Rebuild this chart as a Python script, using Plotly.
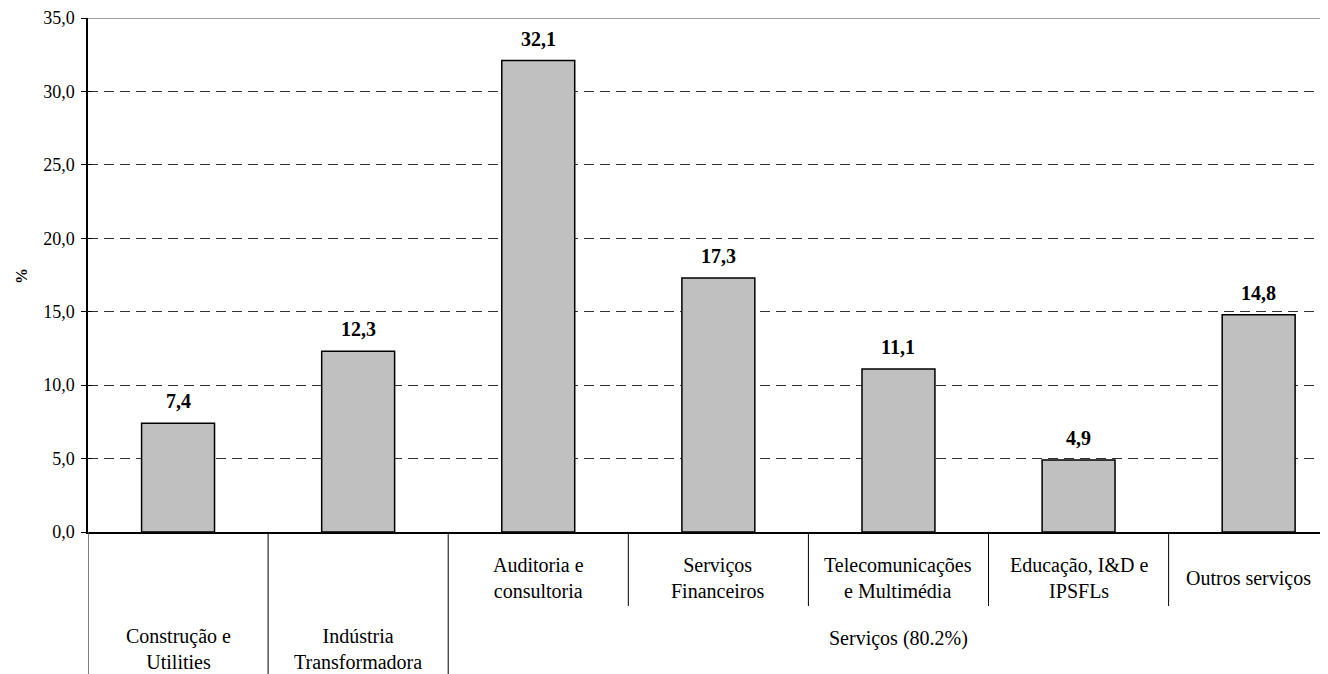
import plotly.graph_objects as go

categories = ["Construção e Utilities", "Indústria Transformadora", "Auditoria e consultoria",
              "Serviços Financeiros", "Telecomunicações e Multimédia", "Educação, I&D e IPSFLs",
              "Outros serviços"]
values = [7.4, 12.3, 32.1, 17.3, 11.1, 4.9, 14.8]
level1_labels = ["", "", "Auditoria e<br>consultoria", "Serviços<br>Financeiros",
                 "Telecomunicações<br>e Multimédia", "Educação, I&D e<br>IPSFLs", "Outros serviços"]
level2_labels = ["Construção e<br>Utilities", "Indústria<br>Transformadora", "Serviços (80.2%)"]
level2_pos = [0, 1, 4]
y_ticks = [0, 5, 10, 15, 20, 25, 30, 35]

FONT = "Times New Roman, Liberation Serif, serif"
x = list(range(len(categories)))

# the page puts the figure 8px from the top-left corner; compensate
W, H = 1320, 666
L, T, R, B = 80, 10, 0, 142
PH = H - T - B  # plot height in px

fig = go.Figure()
fig.add_trace(go.Bar(
    x=x, y=values, width=0.405,
    marker=dict(color="#C0C0C0", line=dict(color="black", width=1.5)),
    hoverinfo="skip", showlegend=False,
))

# data labels
for xi, v in zip(x, values):
    fig.add_annotation(x=xi, y=v, text="<b>" + f"{v:.1f}".replace(".", ",") + "</b>",
                       showarrow=False, yanchor="bottom", yshift=9,
                       font=dict(family=FONT, size=20, color="black"))

# level-1 category labels (last one nudged left so it stays inside the visible area)
for xi, t in zip(x, level1_labels):
    if t:
        fig.add_annotation(x=xi, y=-46 / PH, xref="x", yref="paper", text=t, showarrow=False,
                           yanchor="middle", xshift=(-10 if xi == len(x) - 1 else 0),
                           font=dict(family=FONT, size=20, color="black"))

# level-2 labels
for xi, t in zip(level2_pos, level2_labels):
    yy = -117 / PH if "<br>" in t else -106 / PH
    fig.add_annotation(x=xi, y=yy, xref="x", yref="paper", text=t, showarrow=False,
                       yanchor="middle", font=dict(family=FONT, size=20, color="black"))

# y-axis title
fig.add_annotation(x=-67 / (W - L - R), y=(PH - 258) / PH, xref="paper", yref="paper",
                   xanchor="center", yanchor="middle",
                   text="<b>%</b>", textangle=-90, showarrow=False,
                   font=dict(family=FONT, size=16, color="black"))

shapes = []
# separators
shapes.append(dict(type="line", xref="x", yref="paper", x0=-0.5, x1=-0.5, y0=0, y1=-0.4,
                   line=dict(color="#555555", width=1.5)))
for b in [0.5, 1.5]:
    shapes.append(dict(type="line", xref="x", yref="paper", x0=b, x1=b, y0=0, y1=-0.4,
                       line=dict(color="black", width=1)))
for b in [2.5, 3.5, 4.5, 5.5]:
    shapes.append(dict(type="line", xref="x", yref="paper", x0=b, x1=b, y0=0, y1=-74 / PH,
                       line=dict(color="black", width=1)))
# top border line at 35
shapes.append(dict(type="line", xref="paper", yref="y", x0=0, x1=1, y0=35, y1=35,
                   line=dict(color="#A0A0A0", width=2)))
fig.update_layout(shapes=shapes)

fig.update_layout(
    width=W, height=H,
    margin=dict(l=L, r=R, t=T, b=B),
    paper_bgcolor="white", plot_bgcolor="white",
    separators=", ",
    bargap=0.59,
    xaxis=dict(range=[-0.5, 6.385], showticklabels=False, ticks="", showgrid=False,
               zeroline=False, showline=True, linecolor="black", linewidth=1.5),
    yaxis=dict(range=[0, 35], tickvals=y_ticks, tickformat=".1f", ticks="outside", ticklen=5,
               tickcolor="black", showline=True, linecolor="black", linewidth=1.5,
               showgrid=True, gridcolor="#333333", griddash="10px,6px", gridwidth=1,
               zeroline=False, ticklabelstandoff=3,
               tickfont=dict(family=FONT, size=18, color="black")),
    yaxis2=dict(range=[0, 35], overlaying="y", tickvals=y_ticks, ticks="inside", ticklen=4,
                tickcolor="black", showticklabels=False, showgrid=False, zeroline=False,
                showline=False),
)
fig.add_trace(go.Scatter(x=[None], y=[None], yaxis="y2", showlegend=False, hoverinfo="skip"))

fig.write_html("out.html")
